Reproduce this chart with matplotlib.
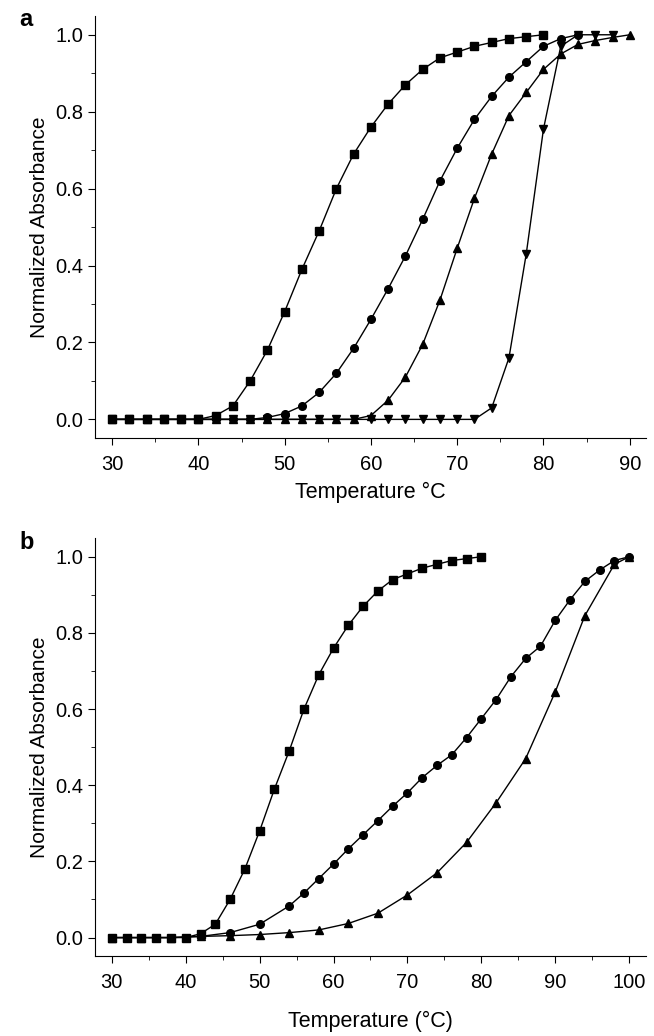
import matplotlib
matplotlib.use("Agg")
import matplotlib.pyplot as plt
import numpy as np
from matplotlib.ticker import MultipleLocator

plt.rcParams['font.family'] = ['Liberation Sans', 'DejaVu Sans']

# panel a
a_sq_x = list(range(30, 82, 2))
a_sq_y = [0, 0, 0, 0, 0, 0, 0.01, 0.035, 0.10, 0.18, 0.28, 0.39, 0.49, 0.60, 0.69,
          0.76, 0.82, 0.87, 0.91, 0.94, 0.955, 0.97, 0.98, 0.99, 0.995, 1.0]
a_ci_x = list(range(30, 86, 2))
a_ci_y = [0, 0, 0, 0, 0, 0, 0, 0, 0, 0.005, 0.015, 0.035, 0.07, 0.12, 0.185, 0.26,
          0.34, 0.425, 0.52, 0.62, 0.705, 0.78, 0.84, 0.89, 0.93, 0.97, 0.99, 1.0]
a_tu_x = list(range(30, 92, 2))
a_tu_y = [0] * 15 + [0.01, 0.05, 0.11, 0.195, 0.31, 0.445, 0.575, 0.69, 0.79, 0.85,
                     0.91, 0.95, 0.975, 0.985, 0.993, 1.0]
a_td_x = list(range(30, 90, 2))
a_td_y = [0] * 22 + [0.03, 0.16, 0.43, 0.755, 0.97, 1.0, 1.0, 1.0]

# panel b
b_sq_x = a_sq_x
b_sq_y = a_sq_y
b_ci_x = [30, 34, 38, 42, 46, 50, 54] + list(range(56, 102, 2))
b_ci_y = [0, 0, 0, 0.003, 0.013, 0.035, 0.083, 0.117, 0.155, 0.193, 0.233, 0.27,
          0.307, 0.345, 0.38, 0.42, 0.452, 0.48, 0.525, 0.575, 0.625, 0.685, 0.733,
          0.765, 0.833, 0.887, 0.935, 0.965, 0.99, 1.0]
b_tu_x = [30, 34, 38, 42, 46, 50, 54, 58, 62, 66, 70, 74, 78, 82, 86, 90, 94, 98, 100]
b_tu_y = [0, 0, 0, 0.003, 0.005, 0.008, 0.013, 0.02, 0.037, 0.064, 0.112, 0.17,
          0.25, 0.354, 0.47, 0.645, 0.845, 0.98, 1.0]

fig = plt.figure(figsize=(6.54, 10.36), dpi=100)
ax1 = fig.add_axes([0.145, 0.577, 0.843, 0.408])
ax2 = fig.add_axes([0.145, 0.077, 0.843, 0.404])

kw = dict(color='black', lw=1, ms=5.5)
ax1.plot(a_sq_x, a_sq_y, marker='s', **kw)
ax1.plot(a_ci_x, a_ci_y, marker='o', **kw)
ax1.plot(a_tu_x, a_tu_y, marker='^', **kw)
ax1.plot(a_td_x, a_td_y, marker='v', **kw)
ax2.plot(b_sq_x, b_sq_y, marker='s', **kw)
ax2.plot(b_ci_x, b_ci_y, marker='o', **kw)
ax2.plot(b_tu_x, b_tu_y, marker='^', **kw)

ax1.set_xlim(28.0, 91.9)
ax2.set_xlim(27.7, 102.3)
for ax in (ax1, ax2):
    ax.set_ylim(-0.049, 1.05)
    ax.spines['top'].set_visible(False)
    ax.spines['right'].set_visible(False)
    ax.xaxis.set_major_locator(MultipleLocator(10))
    ax.xaxis.set_minor_locator(MultipleLocator(5))
    ax.yaxis.set_major_locator(MultipleLocator(0.2))
    ax.yaxis.set_minor_locator(MultipleLocator(0.1))
    ax.yaxis.set_major_formatter(matplotlib.ticker.FormatStrFormatter('%.1f'))
    ax.tick_params(which='both', direction='out', labelsize=14.5)
    ax.tick_params(axis='x', pad=7)
    ax.tick_params(which='major', length=5)
    ax.tick_params(which='minor', length=3)
    ax.set_ylabel('Normalized Absorbance', fontsize=15)

ax1.set_xlabel('Temperature °C', fontsize=15.5, labelpad=6)
ax2.set_xlabel('Temperature (°C)', fontsize=15.5, labelpad=14)
fig.text(0.03, 0.975, 'a', fontsize=17, fontweight='bold')
fig.text(0.03, 0.47, 'b', fontsize=17, fontweight='bold')

fig.savefig('out.png')
